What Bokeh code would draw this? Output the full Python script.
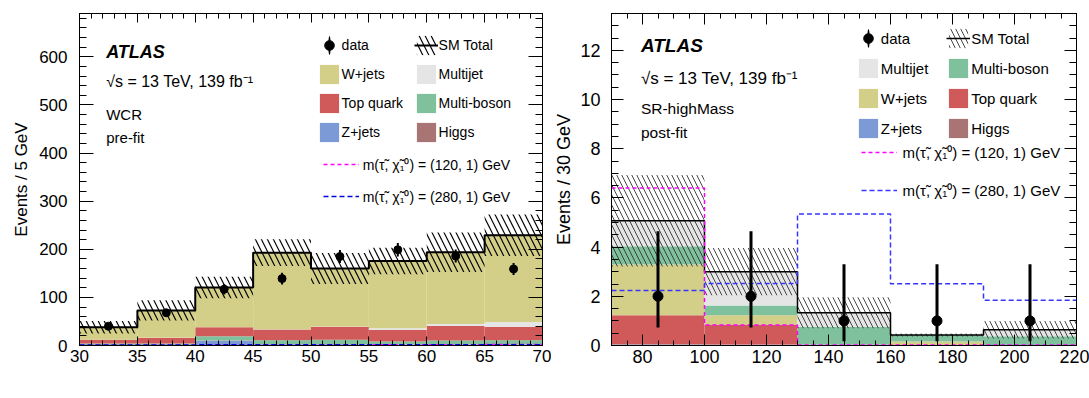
import numpy as np
from bokeh.plotting import figure
from bokeh.models import Range1d, LinearAxis, SingleIntervalTicker, Legend, LegendItem, Label
from bokeh.layouts import row
from bokeh.embed import file_html
from bokeh.resources import INLINE

FONT = "Liberation Sans"

# ---------------- left panel: WCR, pre-fit ----------------
wcr_edges = [30, 35, 40, 45, 50, 55, 60, 65, 70]
wcr_zjets = [1.0, 1.0, 10.0, 2.5, 2.5, 2.0, 2.0, 2.0]
wcr_higgs = [0.2, 0.2, 0.2, 0.2, 0.2, 0.2, 0.2, 0.2]
wcr_multiboson = [3.0, 3.0, 9.0, 8.0, 9.5, 6.0, 8.0, 8.5]
wcr_top = [7.5, 11.5, 18.5, 22.5, 27.0, 24.0, 30.5, 28.0]
wcr_multijet = [0.3, 0.3, 0.3, 0.5, 0.5, 3.5, 4.0, 10.0]
wcr_wjets = [26.0, 57.0, 82.5, 159.3, 120.3, 139.8, 149.3, 180.3]
wcr_unc = [13, 21, 22.5, 28, 32, 27.5, 41, 43]
wcr_data = [40, 68, 117, 139, 185, 199, 186, 159]
wcr_err_lo = [6, 8, 11, 12, 13.5, 14, 13.5, 12.5]
wcr_err_hi = [6, 8, 11, 12, 13.5, 14, 13.5, 12.5]
wcr_sig120 = [0, 0, 0, 0, 0, 1.5, 1.8, 2.0]
wcr_sig280 = [1.0, 1.2, 1.4, 1.3, 1.4, 1.5, 1.6, 1.7]

# ---------------- right panel: SR-highMass, post-fit ----------------
sr_edges = [70, 100, 130, 160, 190, 220]
sr_zjets = [0.04, 0.03, 0.0, 0.0, 0.0]
sr_higgs = [0.01, 0.01, 0.0, 0.0, 0.0]
sr_top = [1.18, 0.79, 0.01, 0.02, 0.0]
sr_wjets = [2.06, 0.40, 0.02, 0.14, 0.02]
sr_multiboson = [0.75, 0.40, 0.73, 0.27, 0.36]
sr_multijet = [1.03, 1.37, 0.57, 0.0, 0.26]
sr_unc = [1.86, 0.96, 0.63, 0.06, 0.36]
sr_data = [2, 2, 1, 1, 1]
sr_err_lo = [1.27, 1.27, 0.83, 0.83, 0.83]
sr_err_hi = [2.65, 2.65, 2.30, 2.30, 2.30]
sr_sig120 = [6.4, 0.83, 0.02, 0.02, 0.02]
sr_sig280 = [2.24, 2.52, 5.35, 2.51, 1.84]

C_W = "#d4cf88"
C_TOP = "#d05a5a"
C_MJ = "#e5e5e5"
C_MB = "#7fc19c"
C_Z = "#7b9ad6"
C_H = "#a87474"

SIG_LABEL_120 = "m(\u03c4\u0303, \u03c7\u0303\u2081\u2070) = (120, 1) GeV"
SIG_LABEL_280 = "m(\u03c4\u0303, \u03c7\u0303\u2081\u2070) = (280, 1) GeV"


def style_axis(ax, interval, minor, tin, min_in, size, standoff, labels=True):
    ax.ticker = SingleIntervalTicker(interval=interval, num_minor_ticks=minor)
    ax.axis_line_color = "black"
    ax.major_tick_line_color = "black"
    ax.minor_tick_line_color = "black"
    ax.major_tick_in = tin
    ax.major_tick_out = 0
    ax.minor_tick_in = min_in
    ax.minor_tick_out = 0
    ax.major_label_text_font = FONT
    if labels:
        ax.major_label_text_color = "black"
        ax.major_label_text_font_size = size
        ax.major_label_standoff = standoff
    else:
        ax.major_label_text_color = None
        ax.major_label_text_alpha = 0
        ax.major_label_text_font_size = "0px"
        ax.major_label_standoff = 0
        ax.axis_label = None


def text(p, x, y, s, size, style="normal"):
    p.add_layout(Label(x=x, y=y, x_units="screen", y_units="screen", text=s,
                       text_font=FONT, text_font_size=size, text_font_style=style,
                       text_baseline="middle", text_align="left", text_color="black"))


def legend(p, items, x, y, gw, spacing, standoff, size):
    lg = Legend(items=items, location=(x, y), orientation="vertical",
                glyph_width=gw, glyph_height=24, label_height=24, label_width=10,
                label_standoff=standoff, spacing=spacing, padding=0, margin=0,
                border_line_color=None, background_fill_alpha=0,
                label_text_font=FONT, label_text_font_size=size, label_text_color="black")
    p.add_layout(lg)


def panel(cfg):
    p = figure(width=cfg["width"], height=398,
               x_range=Range1d(*cfg["xr"]), y_range=Range1d(*cfg["yr"]),
               output_backend="svg", toolbar_location=None,
               min_border_left=cfg["mb"][0], min_border_right=cfg["mb"][1],
               min_border_top=cfg["mb"][2], min_border_bottom=cfg["mb"][3])
    p.xgrid.visible = False
    p.ygrid.visible = False
    p.outline_line_color = "black"
    p.outline_line_width = 1
    p.background_fill_color = "white"
    p.border_fill_color = "white"

    edges = np.array(cfg["edges"], float)
    left, right = edges[:-1], edges[1:]
    base = np.zeros(len(left))
    rends = {}
    for name, vals, color in cfg["stack"]:
        top = base + np.array(vals, float)
        rends[name] = p.quad(left=left, right=right, bottom=base, top=top,
                             fill_color=color, line_color=None)
        base = top
    total = base
    unc = np.array(cfg["unc"], float)
    band = p.quad(left=left, right=right, bottom=total - unc, top=total + unc,
                  fill_color=None, line_color=None, hatch_pattern="\\",
                  hatch_color=cfg["hatch_color"], hatch_scale=cfg["hatch_scale"],
                  hatch_weight=cfg["hatch_weight"])
    tline = p.step(x=edges, y=np.append(total, total[-1]), mode="after",
                   line_color="black", line_width=cfg["tot_w"])
    s120 = np.array(cfg["sig120"], float)
    s280 = np.array(cfg["sig280"], float)
    r120 = p.step(x=edges, y=np.append(s120, s120[-1]), mode="after",
                  line_color="#ff00ff", line_width=1.5, line_dash="4 3")
    r280 = p.step(x=edges, y=np.append(s280, s280[-1]), mode="after",
                  line_color=cfg["blue"], line_width=1.5, line_dash="5 3")

    centers = (left + right) / 2
    d = np.array(cfg["data"], float)
    lo = np.array(cfg["lo"], float)
    hi = np.array(cfg["hi"], float)
    p.segment(x0=centers, x1=centers, y0=d - lo, y1=d + hi, line_color="black",
              line_width=cfg["err_w"])
    dots = p.scatter(x=centers, y=d, size=cfg["msize"], marker="circle",
                     fill_color="black", line_color="black")
    bar = p.ellipse(x=[float("nan")], y=[float("nan")], width=2.5, height=20,
                    width_units="screen", height_units="screen",
                    fill_color="black", line_color=None)

    # axes
    xi, xm, yi, ym = cfg["ticks"]
    style_axis(p.xaxis[0], xi, xm, cfg["xt"][0], cfg["xt"][1], cfg["fs"], 4)
    style_axis(p.yaxis[0], yi, ym, cfg["yt"][0], cfg["yt"][1], cfg["fs"], cfg["ystand"])
    p.yaxis[0].axis_label = cfg["ylabel"]
    p.yaxis[0].axis_label_text_font = FONT
    p.yaxis[0].axis_label_text_font_size = cfg["ts"]
    p.yaxis[0].axis_label_text_font_style = "normal"
    p.yaxis[0].axis_label_text_color = "black"
    p.yaxis[0].axis_label_standoff = cfg["ylab_stand"]
    ra = LinearAxis()
    style_axis(ra, yi, ym, cfg["yt"][0], cfg["yt"][1], "0px", 0, labels=False)
    p.add_layout(ra, "right")
    ta = LinearAxis()
    style_axis(ta, xi, xm, cfg["xt"][0], cfg["xt"][1], "0px", 0, labels=False)
    p.add_layout(ta, "above")

    # x axis title with subscript
    mx, my, tsz, ssz = cfg["xlab"]
    text(p, mx, my, "m", tsz)
    text(p, mx + cfg["sub_dx"], my - 5, "T2", ssz)
    text(p, mx + cfg["gev_dx"], my, "[GeV]", tsz)

    # annotations
    ax_, ay = cfg["atlas"]
    text(p, ax_, ay[0], "ATLAS", cfg["atlas_fs"], "bold italic")
    text(p, ax_, ay[1], "\u221as = 13 TeV, 139 fb\u207b\u00b9", cfg["sqrt_fs"])
    text(p, ax_, ay[2], cfg["region"], cfg["small_fs"])
    text(p, ax_, ay[3], cfg["fit"], cfg["small_fs"])

    # legends
    items = {
        "data": LegendItem(label="data", renderers=[bar, dots]),
        "SM Total": LegendItem(label="SM Total", renderers=[band, tline]),
    }
    for name in rends:
        items[name] = LegendItem(label=name, renderers=[rends[name]])
    lx1, lx2, ly, lsp = cfg["leg"]
    legend(p, [items[n] for n in cfg["col1"]], lx1, ly, 24, lsp, 1, cfg["leg_fs"])
    legend(p, [items[n] for n in cfg["col2"]], lx2, ly, 24, lsp, 1, cfg["leg_fs"])
    sx, sy, ssp, sst = cfg["sigleg"]
    legend(p, [LegendItem(label=SIG_LABEL_120, renderers=[r120]),
               LegendItem(label=SIG_LABEL_280, renderers=[r280])],
           sx, sy, 36, ssp, sst, cfg["leg_fs"])
    return p


left_cfg = dict(
    width=551, xr=(30, 70), yr=(0, 690), mb=(79, 9, 13, 53),
    edges=wcr_edges,
    stack=[("Z+jets", wcr_zjets, C_Z), ("Higgs", wcr_higgs, C_H),
           ("Multi-boson", wcr_multiboson, C_MB), ("Top quark", wcr_top, C_TOP),
           ("Multijet", wcr_multijet, C_MJ), ("W+jets", wcr_wjets, C_W)],
    unc=wcr_unc, hatch_color="black", hatch_scale=12, hatch_weight=1.2, tot_w=2,
    sig120=wcr_sig120, sig280=wcr_sig280, blue="#0000dd",
    data=wcr_data, lo=wcr_err_lo, hi=wcr_err_hi, err_w=2, msize=8,
    ticks=(5, 5, 100, 5), xt=(9, 5), yt=(14, 7), fs="17px", ystand=12,
    ylabel="Events / 5 GeV", ts="17px", ylab_stand=5,
    xlab=(190.7, -36, "17px", "11px"), sub_dx=14.5, gev_dx=32,
    atlas=(26.7, (294, 263.7, 231, 208)), atlas_fs="18px", sqrt_fs="16px",
    small_fs="15px", region="WCR", fit="pre-fit",
    leg=(237.6, 334.6, 201.4, 5), leg_fs="14px",
    col1=["data", "W+jets", "Top quark", "Z+jets"],
    col2=["SM Total", "Multijet", "Multi-boson", "Higgs"],
    sigleg=(243.7, 136.7, 8, 4),
)

right_cfg = dict(
    width=538, xr=(70, 220), yr=(0, 13.5), mb=(56, 13, 10, 50),
    edges=sr_edges,
    stack=[("Z+jets", sr_zjets, C_Z), ("Higgs", sr_higgs, C_H),
           ("Top quark", sr_top, C_TOP), ("W+jets", sr_wjets, C_W),
           ("Multi-boson", sr_multiboson, C_MB), ("Multijet", sr_multijet, C_MJ)],
    unc=sr_unc, hatch_color="#333333", hatch_scale=10, hatch_weight=0.9, tot_w=1.5,
    sig120=sr_sig120, sig280=sr_sig280, blue="#3535ff",
    data=sr_data, lo=sr_err_lo, hi=sr_err_hi, err_w=3, msize=10,
    ticks=(20, 4, 2, 4), xt=(11, 5), yt=(12, 7), fs="18px", ystand=11,
    ylabel="Events / 30 GeV", ts="18px", ylab_stand=3,
    xlab=(194, -44, "18px", "12px"), sub_dx=15.3, gev_dx=34,
    atlas=(29.4, (299.7, 267, 237, 213)), atlas_fs="19px", sqrt_fs="17px",
    small_fs="15.5px", region="SR-highMass", fit="post-fit",
    leg=(244.8, 335.2, 204.9, 6), leg_fs="15px",
    col1=["data", "Multijet", "W+jets", "Z+jets"],
    col2=["SM Total", "Multi-boson", "Top quark", "Higgs"],
    sigleg=(249.6, 143.3, 14, 6),
)

p1 = panel(left_cfg)
p2 = panel(right_cfg)
layout = row(p1, p2)

open("out.html", "w").write(file_html(layout, INLINE))
